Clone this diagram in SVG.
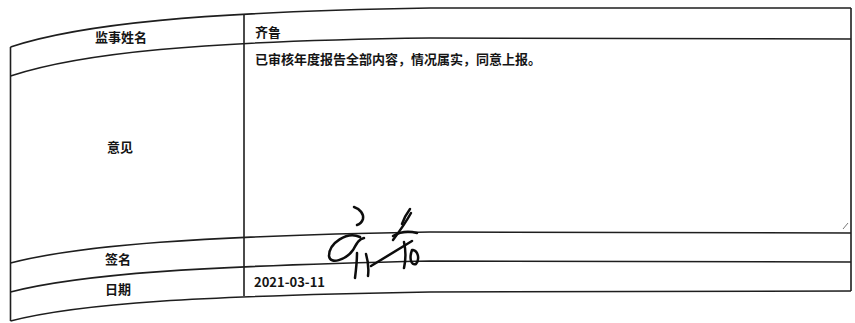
<svg xmlns="http://www.w3.org/2000/svg" width="855" height="323" viewBox="0 0 855 323">
<style>
.ln{fill:none;stroke:#1e1e1e;stroke-width:1.6}
.lab{font-family:"Noto Sans CJK SC","Liberation Sans",sans-serif;font-size:13px;fill:#151515;text-anchor:middle;dominant-baseline:central;font-weight:600}
.val{font-family:"Noto Sans CJK SC","Liberation Sans",sans-serif;font-size:13px;fill:#151515;dominant-baseline:central;font-weight:600}
.sig{fill:none;stroke:#0d0d0d;stroke-width:2.5;stroke-linecap:round;stroke-linejoin:round}
</style>
<rect width="855" height="323" fill="#ffffff"/>
<g id="grid">
<path class="ln" d="M10.5,47 C80,24 200,12 430,8 L851,8"/>
<path class="ln" d="M10.5,76 C80,53 200,41 430,38 L851,39"/>
<path class="ln" d="M10.5,263 C80,245 200,236 430,232 L851,233"/>
<path class="ln" d="M10.5,292 C80,274 200,266 430,261 L851,262"/>
<path class="ln" d="M10.5,321 C80,303 200,296 430,292 L851,291"/>
<path class="ln" d="M10.5,47 L10.5,321"/>
<path class="ln" d="M244,14 L244,296"/>
<path class="ln" d="M851,8 L851,291"/>
<path d="M843,229 L848,223" stroke="#777" stroke-width="1" fill="none"/>
</g>
<g id="row-name">
<text class="lab" x="121" y="36">监事姓名</text>
<text class="val" x="255" y="31">齐鲁</text>
</g>
<g id="row-opinion">
<text class="lab" x="120" y="146">意见</text>
<text class="val" x="255" y="58">已审核年度报告全部内容，情况属实，同意上报。</text>
</g>
<g id="row-sign">
<text class="lab" x="118" y="258">签名</text>
<g id="signature">
<path class="sig" d="M354,207 C360,209 364,214 363,219 C362,222 360,224 357,225"/>
<path class="sig" d="M360,237 C347,231 329,243 329,256 C330,265 346,260 353,250 C357,243 359,239 364,238"/>
<path class="sig" d="M357,253 C357,262 356,270 355,278"/>
<path class="sig" d="M366,254 C368,261 369,268 368,276"/>
<path class="sig" d="M371,266 L412,241"/>
<path class="sig" d="M402,224 C404,218 407,213 410,209"/>
<path class="sig" d="M411,213 C406,222 399,232 393,240"/>
<path class="sig" d="M393,236 C401,231 410,231 417,233"/>
<path class="sig" d="M404,242 C406,251 406,259 404,268"/>
<path class="sig" d="M412,250 C409,258 411,266 416,264 C420,259 418,251 413,250"/>
</g>
</g>
<g id="row-date">
<text class="lab" x="118" y="288">日期</text>
<text class="val" x="254" y="281">2021-03-11</text>
</g>
</svg>
